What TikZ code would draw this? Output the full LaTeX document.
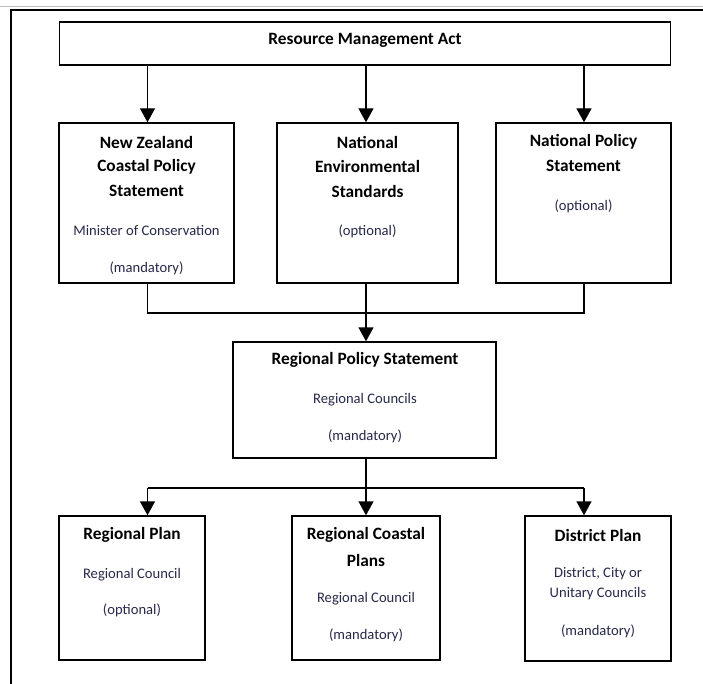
\documentclass[tikz,border=0pt]{standalone}
\usepackage{fontspec}
\setmainfont{Carlito}
\usetikzlibrary{arrows.meta}
\definecolor{subtxt}{RGB}{40,40,75}
\tikzset{
  box/.style={draw=black, line width=1.4pt, fill=white, inner sep=0pt},
  ttl/.style={font=\fontsize{17.3}{20}\selectfont\bfseries, text=black, inner sep=0pt, align=center},
  sub/.style={font=\fontsize{14.6}{17}\selectfont, text=subtxt, inner sep=0pt, align=center},
  conn/.style={line width=1.4pt, draw=black},
  arr/.style={conn, -{Triangle[width=15pt,length=14pt]}},
}
\begin{document}
\begin{tikzpicture}[x=1pt,y=-1pt]
\useasboundingbox (0,0) rectangle (703,684);
% outer frame
\draw[gray!50, line width=1pt] (0,7) -- (703,7);
\draw[line width=1.5pt] (11,690) -- (11,10) -- (710,10);
% boxes
\node[box, minimum width=611pt, minimum height=43pt] (rma) at (365,43.5) {};
\node[box, minimum width=175pt, minimum height=160pt] (nz) at (146.5,203) {};
\node[box, minimum width=181pt, minimum height=160pt] (nes) at (367.5,203) {};
\node[box, minimum width=175pt, minimum height=160pt] (nps) at (583.5,203) {};
\node[box, minimum width=263pt, minimum height=116pt] (rps) at (364.5,400) {};
\node[box, minimum width=146pt, minimum height=144pt] (rp) at (132,588) {};
\node[box, minimum width=148pt, minimum height=144pt] (rcp) at (366,588) {};
\node[box, minimum width=146pt, minimum height=145pt] (dp) at (598,588.5) {};
% texts
\node[ttl] (t-rma) at (365,40) {Resource Management Act};
\node[ttl] (t-nz1) at (146.5,142) {New Zealand};
\node[ttl] (t-nz2) at (146.5,167) {Coastal Policy};
\node[ttl] (t-nz3) at (146.5,191) {Statement};
\node[sub] (s-nz1) at (146.5,231) {Minister of Conservation};
\node[sub] (s-nz2) at (146.5,268) {(mandatory)};
\node[ttl] (t-nes1) at (367.5,142) {National};
\node[ttl] (t-nes2) at (367.5,166) {Environmental};
\node[ttl] (t-nes3) at (367.5,191) {Standards};
\node[sub] (s-nes1) at (367.5,231) {(optional)};
\node[ttl] (t-nps1) at (583.5,142) {National Policy};
\node[ttl] (t-nps2) at (583.5,166) {Statement};
\node[sub] (s-nps1) at (583.5,206) {(optional)};
\node[ttl] (t-rps) at (365,360) {Regional Policy Statement};
\node[sub] (s-rps1) at (365,400) {Regional Councils};
\node[sub] (s-rps2) at (365,436) {(mandatory)};
\node[ttl] (t-rp) at (132,535) {Regional Plan};
\node[sub] (s-rp1) at (132,575) {Regional Council};
\node[sub] (s-rp2) at (132,610) {(optional)};
\node[ttl] (t-rcp1) at (366,535) {Regional Coastal};
\node[ttl] (t-rcp2) at (366,560) {Plans};
\node[sub] (s-rcp1) at (366,599) {Regional Council};
\node[sub] (s-rcp2) at (366,635) {(mandatory)};
\node[ttl] (t-dp) at (598,535) {District Plan};
\node[sub] (s-dp1) at (598,574) {District, City or};
\node[sub] (s-dp2) at (598,594) {Unitary Councils};
\node[sub] (s-dp3) at (598,631) {(mandatory)};
% connectors
\coordinate (a1) at (147.5,0);
\coordinate (a2) at (366,0);
\coordinate (a3) at (584,0);
\draw[arr] (a1 |- rma.south) -- (a1 |- nz.north);
\draw[arr] (a2 |- rma.south) -- (a2 |- nes.north);
\draw[arr] (a3 |- rma.south) -- (a3 |- nps.north);
\coordinate (j1) at (366,313);
\draw[conn] (a1 |- nz.south) -- (a1 |- j1) -- (a3 |- j1) -- (a3 |- nps.south);
\draw[arr] (a2 |- nes.south) -- (a2 |- rps.north);
\coordinate (j2) at (366,488);
\draw[conn] (a2 |- rps.south) -- (j2);
\draw[conn] (a1 |- j2) -- (a3 |- j2);
\draw[arr] (a1 |- j2) -- (a1 |- rp.north);
\draw[arr] (j2) -- (a2 |- rcp.north);
\draw[arr] (a3 |- j2) -- (a3 |- dp.north);
\end{tikzpicture}
\end{document}
